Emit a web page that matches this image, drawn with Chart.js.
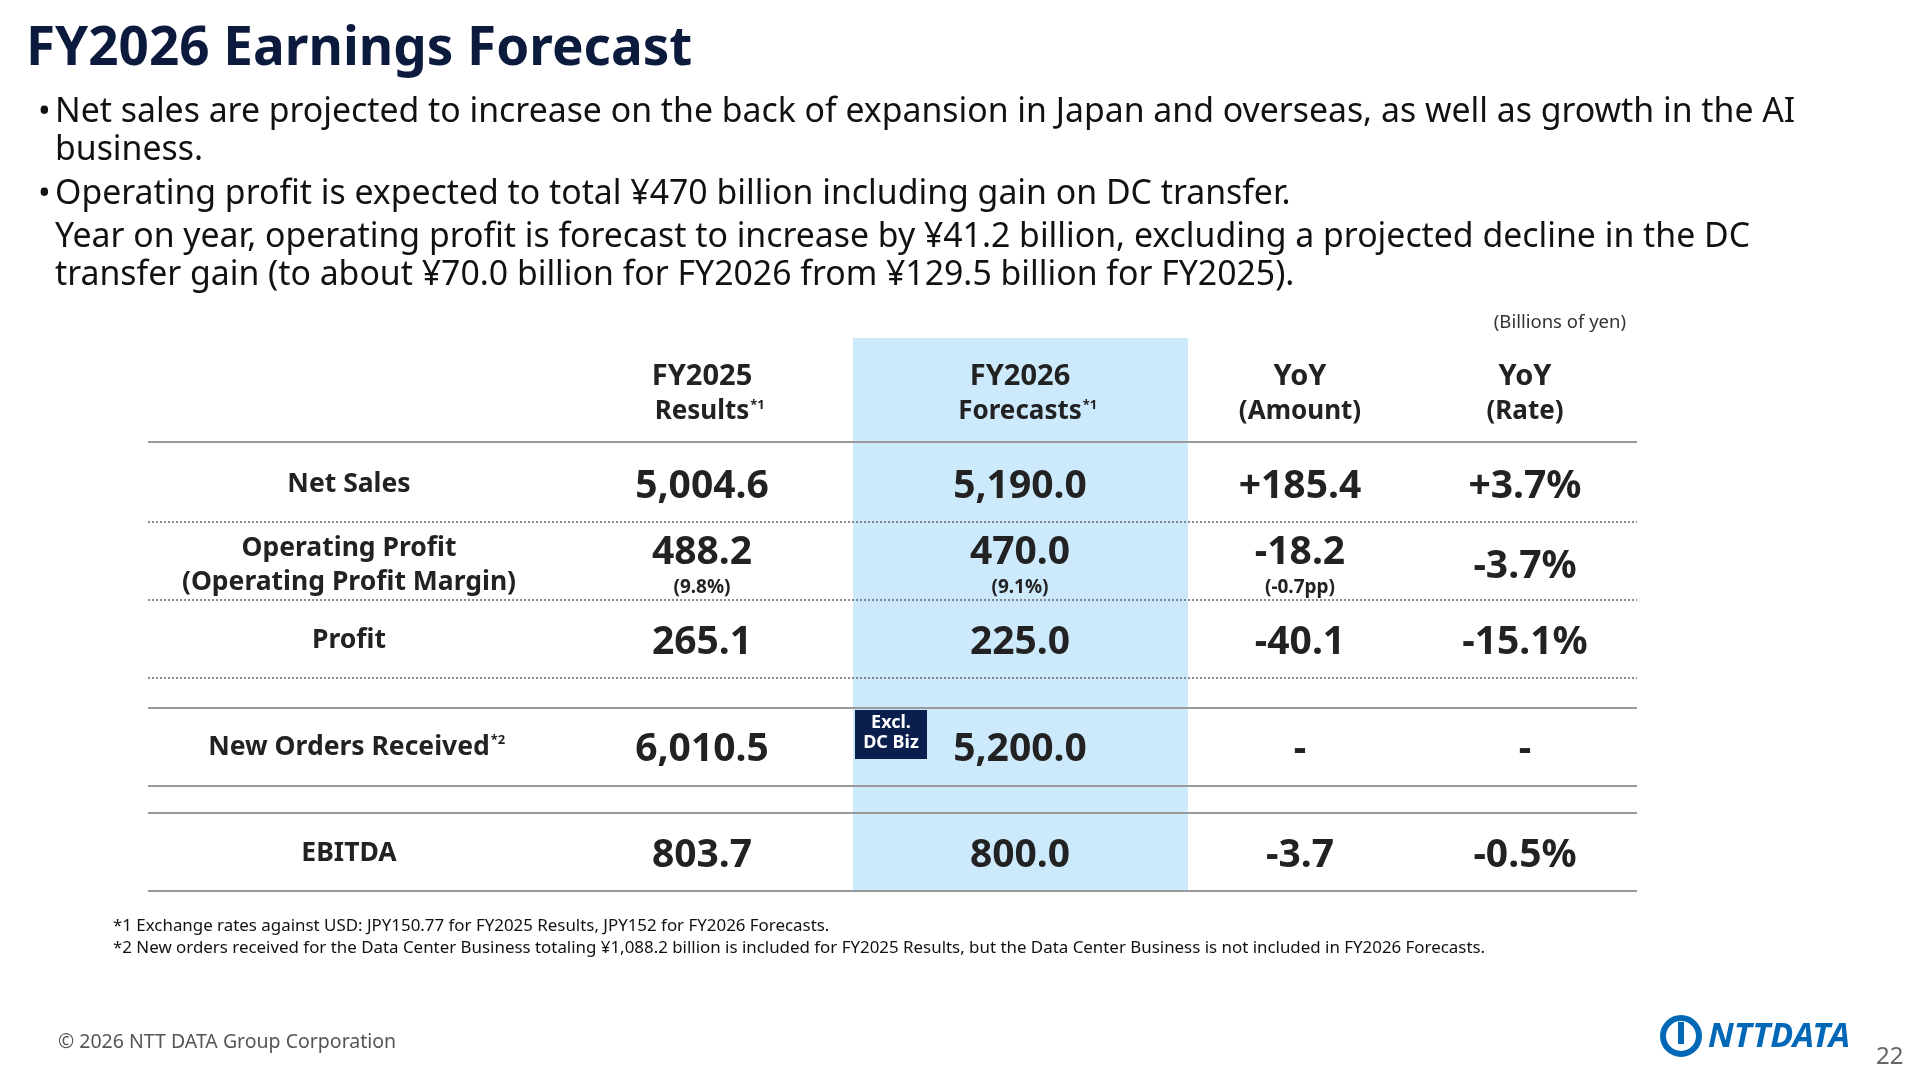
<!DOCTYPE html><html><head><meta charset="utf-8">
<script src="https://cdn.jsdelivr.net/npm/chart.js@4.4.0/dist/chart.umd.min.js"></script>
<style>html,body{margin:0;padding:0;background:#fff}#w{width:1920px;height:1080px}</style></head><body><div id="w"><canvas id="c"></canvas></div>
<script>
const title="FY2026 Earnings Forecast";
const bullets=[["•","Net sales are projected to increase on the back of expansion in Japan and overseas, as well as growth in the AI"],["","business."],["•","Operating profit is expected to total ¥470 billion including gain on DC transfer."],["","Year on year, operating profit is forecast to increase by ¥41.2 billion, excluding a projected decline in the DC"],["","transfer gain (to about ¥70.0 billion for FY2026 from ¥129.5 billion for FY2025)."]];
const headers=[["FY2025","Results","*1"],["FY2026","Forecasts","*1"],["YoY","(Amount)",""],["YoY","(Rate)",""]];
const rowLabels=[["Net Sales"],["Operating Profit","(Operating Profit Margin)"],["Profit"],["New Orders Received"],["EBITDA"]];
const fy2025=["5,004.6","488.2","265.1","6,010.5","803.7"];
const fy2026=["5,190.0","470.0","225.0","5,200.0","800.0"];
const yoyAmt=["+185.4","-18.2","-40.1","-","-3.7"];
const yoyRate=["+3.7%","-3.7%","-15.1%","-","-0.5%"];
const subs=[null,["(9.8%)","(9.1%)","(-0.7pp)"],null,null,null];
const footnotes=["*1 Exchange rates against USD: JPY150.77 for FY2025 Results, JPY152 for FY2026 Forecasts.","*2 New orders received for the Data Center Business totaling ¥1,088.2 billion is included for FY2025 Results, but the Data Center Business is not included in FY2026 Forecasts."];

const colX=[349,702,1020,1300,1525];
const rowY=[487,567,643,750,856];
const lines=[[442,'s'],[522,'d'],[600,'d'],[678,'d'],[708,'s'],[786,'s'],[813,'s'],[891,'s']];
const NAVY='#0b1a3d';
const F='"Noto Sans",sans-serif';

const plug={id:'tbl',afterDraw(ch){
 const c=ch.ctx,X=v=>ch.scales.x.getPixelForValue(v),Y=v=>ch.scales.y.getPixelForValue(v);
 c.save();
 c.fillStyle='#cdeafc';c.fillRect(X(853),Y(338),X(1188)-X(853),Y(891)-Y(338));
 c.textBaseline='middle';
 c.fillStyle=NAVY;c.font='bold 53px '+F;c.textAlign='left';c.fillText(title,X(26),Y(50));
 c.font='33.8px '+F;c.fillStyle='#111';
 const by=[112,150,194,237,275];
 bullets.forEach((b,i)=>{if(b[0])c.fillText(b[0],X(38),Y(by[i]));c.fillText(b[1],X(55),Y(by[i]));});
 c.font='18.5px '+F;c.textAlign='right';c.fillStyle='#333';c.fillText('(Billions of yen)',X(1626),Y(323));
 c.textAlign='center';
 headers.forEach((h,i)=>{const x=X(colX[i+1]);c.fillStyle='#222';c.font='bold 29px '+F;c.fillText(h[0],x,Y(377));
  c.font='bold 26px '+F;c.fillText(h[1],x,Y(412));if(h[2]){const w=c.measureText(h[1]).width;c.font='bold 13px '+F;c.textAlign='left';c.fillText(h[2],x+w/2+1,Y(405));c.textAlign='center';}});
 lines.forEach(([y,t])=>{c.beginPath();c.strokeStyle=t=='s'?'#999':'#666';c.lineWidth=t=='s'?2:1.5;c.setLineDash(t=='s'?[]:[2,2]);c.moveTo(X(148),Y(y));c.lineTo(X(1637),Y(y));c.stroke();});
 c.setLineDash([]);
 rowLabels.forEach((l,i)=>{c.fillStyle='#222';c.font='bold 26.5px '+F;
  if(l.length==1){c.fillText(l[0],X(colX[0]),Y(rowY[i]-3));if(i==3){const w=c.measureText(l[0]).width;c.font='bold 13px '+F;c.textAlign='left';c.fillText('*2',X(colX[0])+w/2+1,Y(rowY[i]-10));c.textAlign='center';}}
  else{c.fillText(l[0],X(colX[0]),Y(548));c.fillText(l[1],X(colX[0]),Y(582));}
  const vals=[fy2025[i],fy2026[i],yoyAmt[i],yoyRate[i]];
  vals.forEach((v,j)=>{c.font='bold 39px '+F;c.fillStyle='#222';
   let y=rowY[i]; if(subs[i]&&j<3) y=553;
   c.fillText(v,X(colX[j+1]),Y(y));
   if(subs[i]&&j<3){c.font='bold 19px '+F;c.fillText(subs[i][j],X(colX[j+1]),Y(588));}});
 });
 c.fillStyle='#0b1f4f';c.fillRect(X(855),Y(710),X(927)-X(855),Y(759)-Y(710));
 c.fillStyle='#fff';c.font='bold 18px '+F;c.fillText('Excl.',X(891),Y(723));c.fillText('DC Biz',X(891),Y(743));
 c.textAlign='left';c.fillStyle='#111';c.font='16.9px '+F;
 c.fillText(footnotes[0],X(113),Y(926));c.fillText(footnotes[1],X(113),Y(948));
 c.fillStyle='#555';c.font='19.5px '+F;c.fillText('© 2026 NTT DATA Group Corporation',X(58),Y(1042));
 c.fillStyle='#666';c.font='24px '+F;c.fillText('22',X(1876),Y(1057));
 c.strokeStyle='#0068b7';c.lineWidth=6;c.beginPath();c.arc(X(1681),Y(1036),18,0,Math.PI*2);c.stroke();
 c.fillStyle='#0068b7';c.fillRect(X(1678),Y(1022),6,22);
 c.font='bold italic 34px '+F;c.fillText('NTTDATA',X(1708),Y(1037));
 c.restore();
}};
new Chart(document.getElementById('c'),{type:'scatter',data:{datasets:[{data:[]}]},
 options:{responsive:true,maintainAspectRatio:false,animation:false,layout:{padding:0},
 plugins:{legend:{display:false},tooltip:{enabled:false}},
 scales:{x:{type:'linear',min:0,max:1920,display:false},y:{type:'linear',min:0,max:1080,reverse:true,display:false}}},plugins:[plug]});
</script></body></html>
